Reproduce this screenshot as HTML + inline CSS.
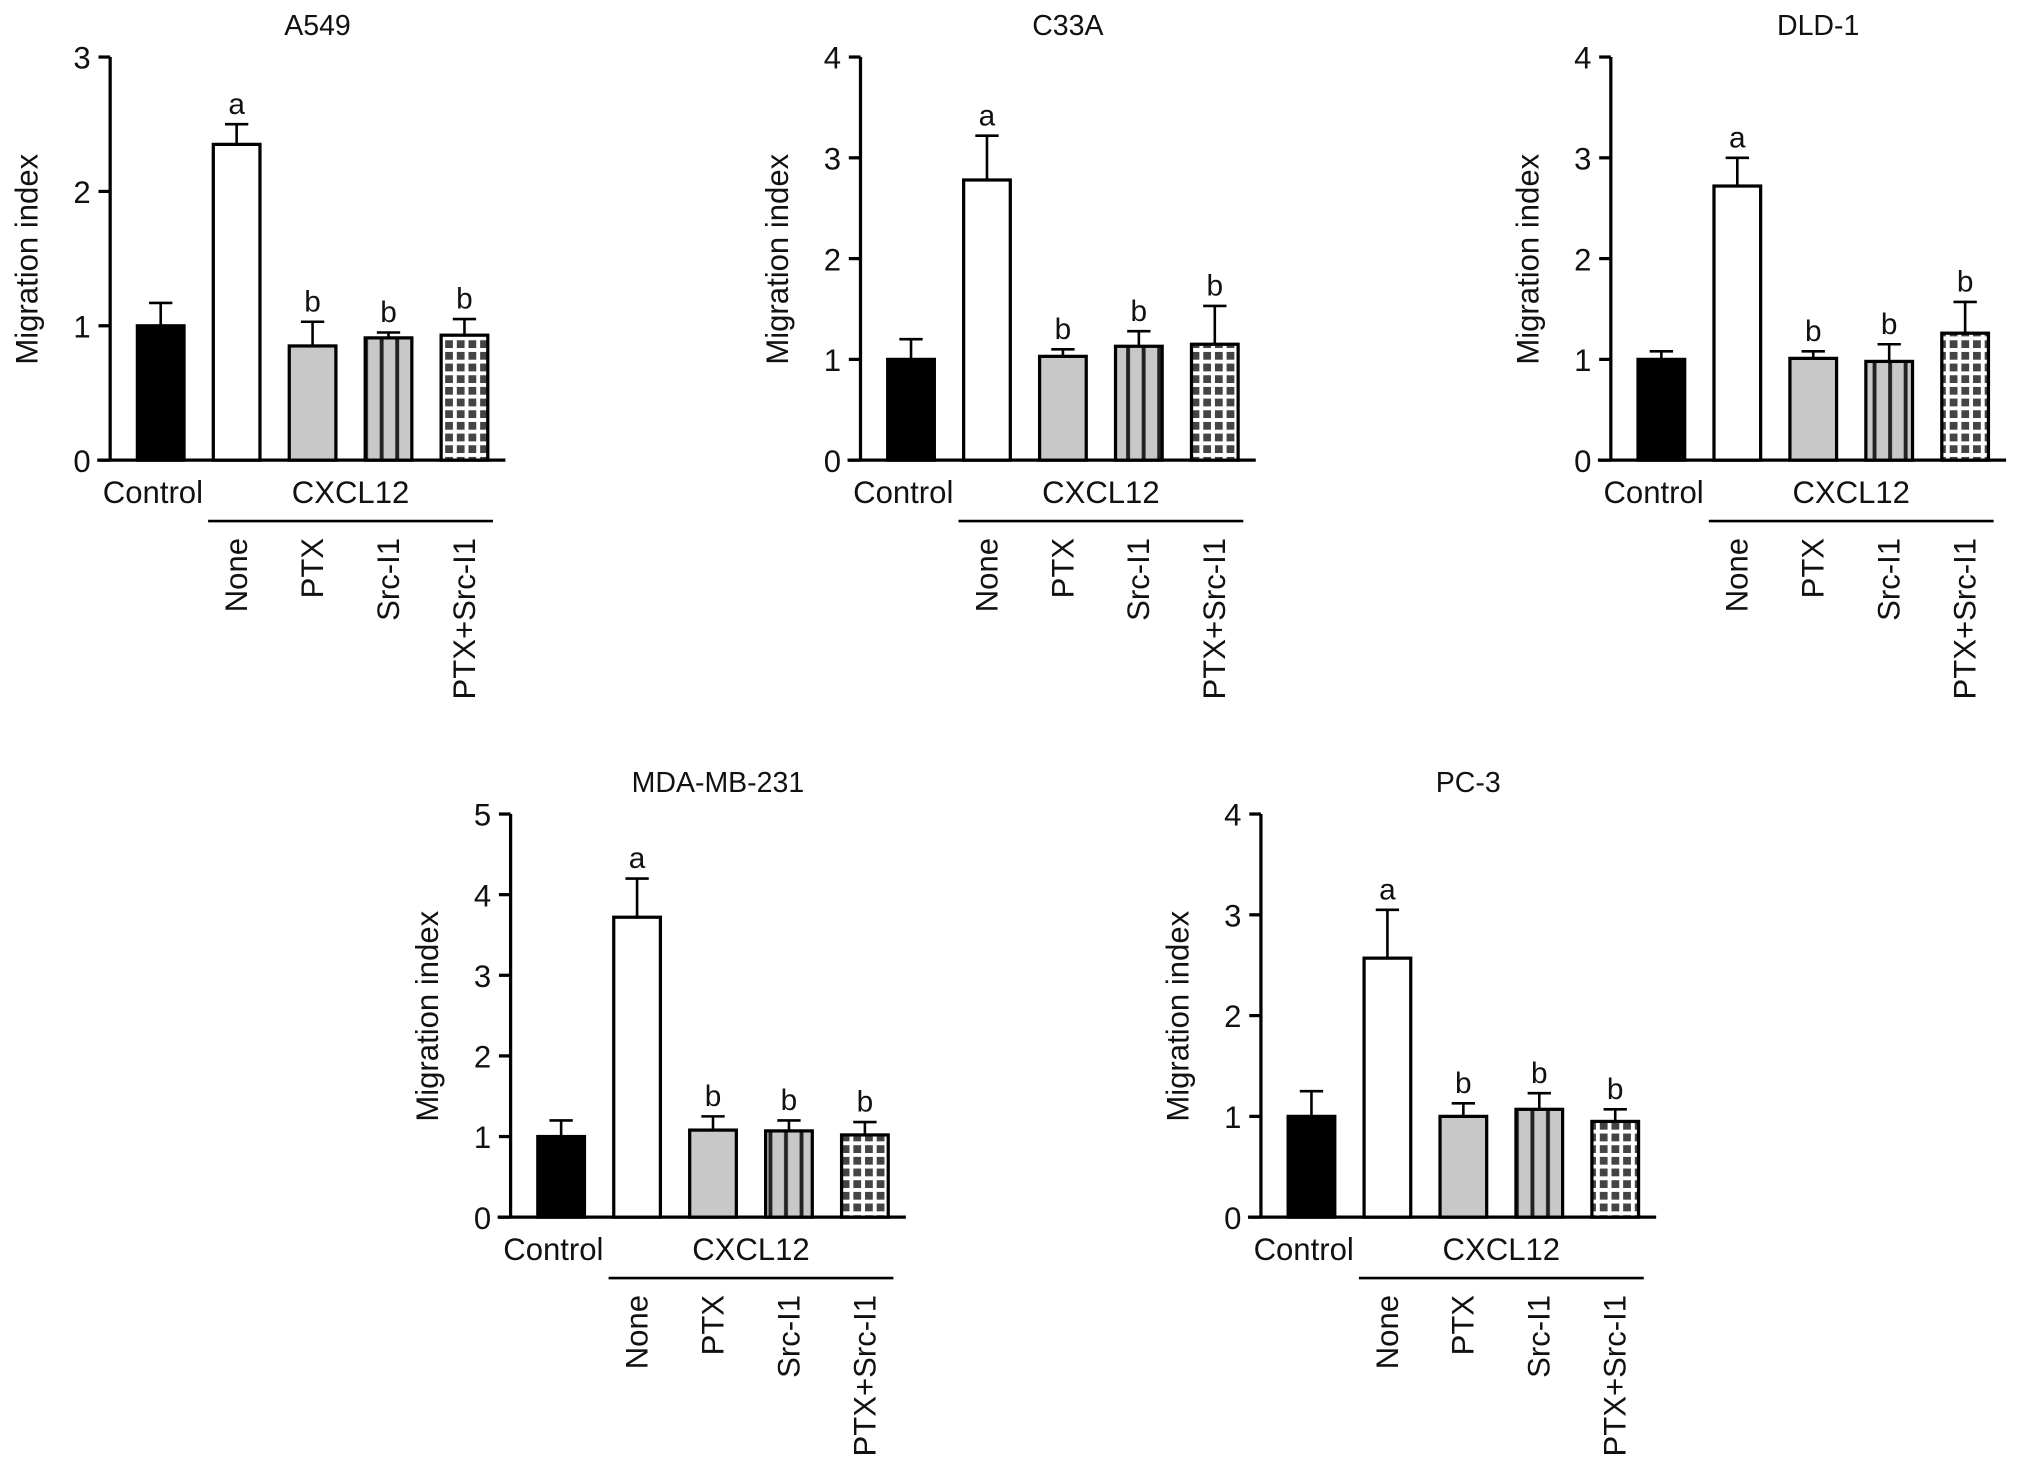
<!DOCTYPE html>
<html><head><meta charset="utf-8"><style>
html,body{margin:0;padding:0;background:#fff}
svg{display:block}
text{font-family:"Liberation Sans",Arial,sans-serif;fill:#111}
</style></head><body>
<svg id="chart" width="2032" height="1479" viewBox="0 0 1568 1141" preserveAspectRatio="none" xmlns="http://www.w3.org/2000/svg">
<defs>
<pattern id="stripe" patternUnits="userSpaceOnUse" width="12" height="10">
<rect width="12" height="10" fill="#c8c8c8"/><rect x="5" width="3" height="10" fill="#222"/>
</pattern>
<pattern id="check" patternUnits="userSpaceOnUse" width="9" height="9">
<rect width="9" height="9" fill="#fff"/><rect x="1.5" y="1.5" width="6" height="6" fill="#444"/>
</pattern>
</defs>
</svg>
<script>
const panelTitles=["A549","C33A","DLD-1","MDA-MB-231","PC-3"];
const groupLabels=["None","PTX","Src-I1","PTX+Src-I1"];
const yMaxes=[3,4,4,5,4];
const meanA549=[1.0,2.35,0.85,0.91,0.93];
const errA549=[1.17,2.5,1.03,0.95,1.05];
const meanC33A=[1.0,2.78,1.03,1.13,1.15];
const errC33A=[1.2,3.22,1.1,1.28,1.53];
const meanDLD1=[1.0,2.72,1.01,0.98,1.26];
const errDLD1=[1.08,3.0,1.08,1.15,1.57];
const meanMDA=[1.0,3.72,1.08,1.07,1.02];
const errMDA=[1.2,4.2,1.25,1.2,1.18];
const meanPC3=[1.0,2.57,1.0,1.07,0.95];
const errPC3=[1.25,3.05,1.13,1.23,1.07];
const sigLetters=["","a","b","b","b"];
const means=[meanA549,meanC33A,meanDLD1,meanMDA,meanPC3];
const errs=[errA549,errC33A,errDLD1,errMDA,errPC3];
const origins=[[85,355],[664,355],[1243,355],[394,939],[973,939]];
const fills=["#000","#fff","#c8c8c8","url(#stripe)","url(#check)"];
const NS="http://www.w3.org/2000/svg";
const svg=document.getElementById('chart');
function mk(tag,attrs,parent,txt){const e=document.createElementNS(NS,tag);for(const k in attrs)e.setAttribute(k,attrs[k]);if(txt!==undefined)e.textContent=txt;(parent||svg).appendChild(e);return e;}
for(let p=0;p<5;p++){
  const [ox,oy]=origins[p];const H=311;const ymax=yMaxes[p];
  const yScale=v=>oy-v/ymax*H;
  const xScale=i=>ox+39+i*58.6;
  const g=mk('g',{});
  
  
  const t=mk('text',{x:ox+160,y:oy-328,'text-anchor':'middle','font-size':22},g,panelTitles[p]);
  
  
  const yl=mk('text',{transform:`translate(${ox-56},${oy-155}) rotate(-90)`,'text-anchor':'middle','font-size':24},g,'Migration index');
  
  
  for(let v=0;v<=ymax;v++){
    const y=yScale(v);
    mk('line',{x1:ox-9,x2:ox,y1:y,y2:y,stroke:'#000','stroke-width':2.5},g);
    const tl=mk('text',{x:ox-15,y:y+9,'text-anchor':'end','font-size':24},g,String(v));
    
    
  }
  const ya=mk('line',{x1:ox,x2:ox,y1:yScale(ymax),y2:oy+1,stroke:'#000','stroke-width':2.5},g);
  
  
  const xa=mk('line',{x1:ox-10,x2:ox+305,y1:oy,y2:oy,stroke:'#000','stroke-width':2.5},g);
  
  
  for(let i=0;i<5;i++){
    const cx=xScale(i);const top=yScale(means[p][i]);const et=yScale(errs[p][i]);
    mk('line',{x1:cx,x2:cx,y1:top,y2:et,stroke:'#000','stroke-width':2},g);
    mk('line',{x1:cx-9,x2:cx+9,y1:et,y2:et,stroke:'#000','stroke-width':2},g);
    const b=mk('rect',{x:cx-18,y:top,width:36,height:oy-top,fill:fills[i],stroke:'#000','stroke-width':2.5},g);
    
    
    if(sigLetters[i]){
      const s=mk('text',{x:cx,y:et-8,'text-anchor':'middle','font-size':23},g,sigLetters[i]);
      
      
    }
  }
  const c=mk('text',{x:xScale(0)-6,y:oy+33,'text-anchor':'middle','font-size':24},g,'Control');
  
  
  const cx12=mk('text',{x:(xScale(1)+xScale(4))/2,y:oy+33,'text-anchor':'middle','font-size':24},g,'CXCL12');
  
  
  mk('line',{x1:xScale(1)-22,x2:xScale(4)+22,y1:oy+47,y2:oy+47,stroke:'#000','stroke-width':2},g);
  for(let i=0;i<4;i++){
    const x=xScale(i+1)+8;const y=oy+60;
    const l=mk('text',{transform:`translate(${x},${y}) rotate(-90)`,'text-anchor':'end','font-size':24},g,groupLabels[i]);
    
    
  }
}
</script>
</body></html>
